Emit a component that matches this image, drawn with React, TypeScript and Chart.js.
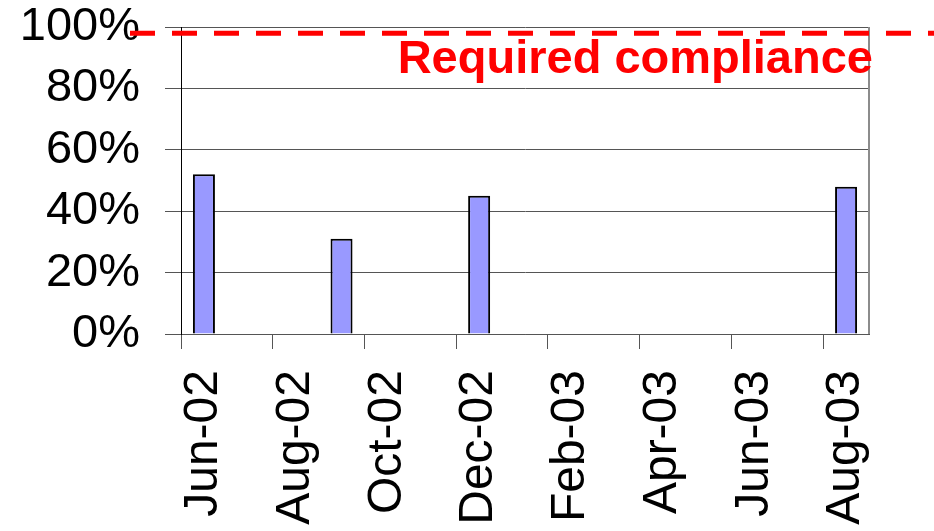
import React, { useEffect, useRef } from "react";
import { Chart, registerables } from "chart.js";

Chart.register(...registerables);

const categories = [
  "Jun-02", "Jul-02", "Aug-02", "Sep-02", "Oct-02", "Nov-02", "Dec-02",
  "Jan-03", "Feb-03", "Mar-03", "Apr-03", "May-03", "Jun-03", "Jul-03", "Aug-03",
];
const complianceValues: (number | null)[] = [
  52, null, null, 31, null, null, 45, null, null, null, null, null, null, null, 48,
];
const yMin = 0;
const yMax = 100;
const yStep = 20;
const requiredLevel = 98;
const requiredLabel = "Required compliance";

const FONT = "'Liberation Sans', Arial, Helvetica, sans-serif";

const requiredPlugin = {
  id: "requiredLine",
  afterDraw(chart: any) {
    const { ctx, chartArea, scales } = chart;
    const y = scales.y.getPixelForValue(requiredLevel);
    ctx.save();
    ctx.strokeStyle = "#8c8c8c";
    ctx.lineWidth = 2;
    ctx.beginPath();
    ctx.moveTo(chartArea.right, chartArea.top);
    ctx.lineTo(chartArea.right, chartArea.bottom);
    ctx.stroke();
    ctx.strokeStyle = "#FF0000";
    ctx.lineWidth = 5;
    ctx.setLineDash([25, 17]);
    ctx.beginPath();
    ctx.moveTo(chartArea.left - 51, y);
    ctx.lineTo(chart.width, y);
    ctx.stroke();
    ctx.setLineDash([]);
    ctx.fillStyle = "#FF0000";
    ctx.font = `bold 47px ${FONT}`;
    ctx.textAlign = "right";
    ctx.textBaseline = "alphabetic";
    ctx.fillText(requiredLabel, chartArea.right + 4, y + 40);
    ctx.restore();
  },
};

export default function App() {
  const canvasRef = useRef<HTMLCanvasElement | null>(null);

  useEffect(() => {
    if (!canvasRef.current) return;
    const chart = new Chart(canvasRef.current, {
      type: "bar",
      data: {
        labels: categories,
        datasets: [
          {
            data: complianceValues,
            backgroundColor: "#9999FF",
            borderColor: "#000000",
            borderWidth: 2,
            barPercentage: 0.48,
            categoryPercentage: 1,
          },
        ],
      },
      options: {
        responsive: false,
        animation: false,
        layout: { padding: { left: 0, right: 65, top: 0, bottom: 0 } },
        plugins: {
          legend: { display: false },
          tooltip: { enabled: false },
        },
        scales: {
          x: {
            offset: true,
            afterFit: (s: any) => {
              s.height = 197;
              s.paddingLeft = 0;
              s.paddingRight = 0;
            },
            grid: {
              offset: true,
              drawOnChartArea: false,
              drawTicks: true,
              tickLength: 15,
              tickColor: (c: any) => (c.index % 2 === 0 ? "#555555" : "rgba(0,0,0,0)"),
              color: "#555555",
            },
            border: { display: true, color: "#555555", width: 1 },
            ticks: {
              autoSkip: false,
              minRotation: 90,
              maxRotation: 90,
              padding: 21,
              color: "#000000",
              font: { family: FONT, size: 48 },
              callback: (_v: any, i: number) => (i % 2 === 0 ? categories[i] : ""),
            },
          },
          y: {
            min: yMin,
            max: yMax,
            afterFit: (s: any) => {
              s.width = 181;
              s.paddingTop = 27;
              s.paddingBottom = 0;
            },
            grid: {
              color: "#555555",
              tickLength: 16,
              lineWidth: 1,
            },
            border: { display: true, color: "#000000", width: 1 },
            ticks: {
              autoSkip: false,
              stepSize: yStep,
              padding: 25,
              color: "#000000",
              font: { family: FONT, size: 47 },
              callback: (v: any) => `${v}%`,
            },
          },
        },
      },
      plugins: [requiredPlugin],
    });
    return () => chart.destroy();
  }, []);

  return (
    <div style={{ position: "fixed", left: 0, top: 0, width: 934, height: 531, overflow: "hidden", background: "#fff" }}>
      <canvas ref={canvasRef} width={934} height={531} />
    </div>
  );
}
